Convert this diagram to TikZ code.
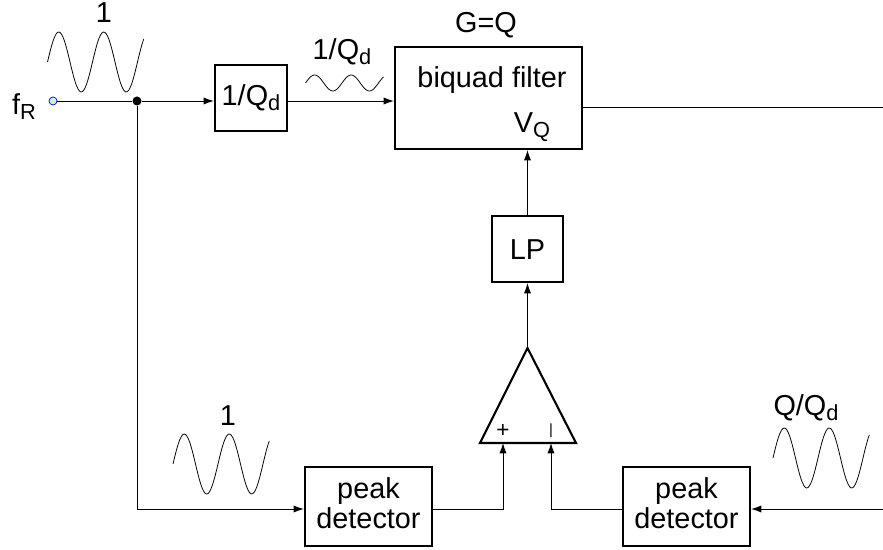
\documentclass[tikz,border=0pt]{standalone}
\usepackage{fontspec}
\setmainfont{Liberation Sans}
\usetikzlibrary{arrows.meta,positioning,calc}
\tikzset{
  blockbox/.style={draw=black, line width=1.5pt, inner sep=0pt},
  wirearr/.style={-{Latex[length=2.6mm,width=1.8mm]}, draw=black, line width=0.7pt},
  wireline/.style={draw=black, line width=0.7pt},
  sigwave/.style={draw=black, line width=0.55pt},
  flowlab/.style={inner sep=0pt, font=\blockfont, align=center},
  signlab/.style={inner sep=0pt, font=\fontsize{16}{16}\selectfont},
}
\newcommand{\blockfont}{\fontsize{20.5}{21.5}\selectfont}
\newcommand{\lowsub}[1]{\raisebox{-3.5pt}{\fontsize{15.5}{15.5}\selectfont #1}}
\newcommand{\sinewave}[4]{%
  \draw[sigwave] plot[domain=0:2.14, samples=70, smooth]
    ({#1+#3*\x},{#2-#4*sin(360*\x)});%
}
\begin{document}
\begin{tikzpicture}[x=0.025cm,y=-0.025cm]
\useasboundingbox (0,0) rectangle (883,550);
% blocks
\node[blockbox, minimum width=72*0.025cm, minimum height=66*0.025cm] (qbox) at (251,98) {};
\node[blockbox, minimum width=187*0.025cm, minimum height=102*0.025cm] (biq) at (488.5,98) {};
\node[blockbox, minimum width=71*0.025cm, minimum height=66*0.025cm] (lp) at (527.5,249) {};
\node[blockbox, minimum width=127*0.025cm, minimum height=79*0.025cm] (peakl) at (368.5,506.5) {};
\node[blockbox, minimum width=127*0.025cm, minimum height=79*0.025cm] (peakr) at (686.5,506.5) {};
% input and junction
\node[circle, draw=blue!80!black, fill=cyan!20, line width=0.5pt, minimum size=8*0.025cm, inner sep=0pt] (fr) at (53,101) {};
\node[circle, fill=black, minimum size=9*0.025cm, inner sep=0pt] (jct) at (137,101) {};
% comparator
\coordinate (apex) at (527.5,348);
\coordinate (basel) at (480,443);
\coordinate (baser) at (576,443);
\coordinate (inp) at (503,443);
\coordinate (inm) at (551,443);
\draw[line width=1.5pt, line join=miter] (apex) -- (baser) -- (basel) -- cycle;
\coordinate (outr) at (883,107);
\coordinate (inr) at (883,509);
\coordinate (corner) at (137,509);
% wires
\draw[wireline] (fr) -- (jct);
\draw[wirearr] (jct) -- (jct -| qbox.west);
\draw[wirearr] (jct -| qbox.east) -- (jct -| biq.west);
\draw[wireline] (outr -| biq.east) -- (outr);
\draw[wirearr] (lp.north) -- (lp.north |- biq.south);
\draw[wirearr] (apex) -- (lp.south);
\draw[wireline] (jct) -- (corner);
\draw[wirearr] (corner) -- (corner -| peakl.west);
\draw[wirearr] (corner -| peakl.east) -| (inp);
\draw[wirearr] (corner -| peakr.west) -| (inm);
\draw[wirearr] (inr) -- (inr -| peakr.east);
% signals
\sinewave{47.5}{62}{45}{30}
\sinewave{305.5}{83}{36.5}{8}
\sinewave{173}{464}{45}{30}
\sinewave{773}{458}{45}{30}
% labels
\node[flowlab] (lqbox) at (251,98) {1/Q\lowsub{d}};
\node[flowlab] (llp) at (527.5,250) {LP};
\node[flowlab] (lpeakl) at (368.5,503) {peak\\detector};
\node[flowlab] (lpeakr) at (686.5,503) {peak\\detector};
\node[flowlab] (lfr) at (24,107) {f\lowsub{R}};
\node[flowlab] (lone) at (104,13) {1};
\node[flowlab] (lq) at (342,52) {1/Q\lowsub{d}};
\node[flowlab] (lg) at (486,25) {G=Q};
\node[flowlab] (lbiq) at (492,80) {biquad filter};
\node[flowlab] (lvq) at (532,127) {V\lowsub{Q}};
\node[flowlab] (ltwo) at (228,416) {1};
\node[flowlab] (lqq) at (806,408) {Q/Q\lowsub{d}};
\node[signlab] (lplus) at (503,431) {+};
\node[inner sep=0pt, font=\fontsize{10.5}{10.5}\selectfont] (lminus) at (551,431) {|};
\end{tikzpicture}
\end{document}
